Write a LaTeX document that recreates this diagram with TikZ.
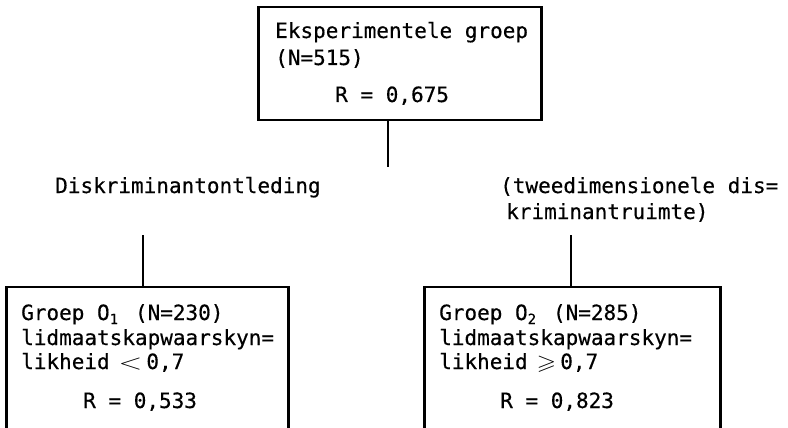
\documentclass[tikz,border=0pt]{standalone}
\usepackage{amssymb}
\usepackage{graphicx}
\usepackage{fontspec}
\setmonofont[FakeBold=0.4]{DejaVu Sans Mono}

% width of one character cell of the typewriter face
\newlength\cellw
\setlength\cellw{12.64pt}
\newcommand\subdig[1]{\makebox[\cellw][l]{\raisebox{-4pt}{\fontsize{14}{14}\selectfont #1}}}

\tikzset{
  frame/.style={draw, line width=1.3pt, inner sep=0pt},
  side/.style={line width=2.8pt},
  link/.style={line width=2.2pt},
  label/.style={anchor=base west, inner sep=0pt, font=\ttfamily\fontsize{21}{24}\selectfont},
}

\begin{document}
\begin{tikzpicture}[x=1pt,y=-1pt]
\useasboundingbox (0,0) rectangle (788,428);
\clip (0,0) rectangle (788,428);

% boxes
\node[frame, minimum width=282pt, minimum height=113pt] (top) at (400,63.5) {};
\node[frame, minimum width=281pt, minimum height=200pt] (left) at (147.5,387) {};
\node[frame, minimum width=295pt, minimum height=200pt] (right) at (572.5,387) {};

% heavier vertical sides
\draw[side] (top.north west) -- (top.south west);
\draw[side] (top.north east) -- (top.south east);
\draw[side] (left.north west) -- (left.south west);
\draw[side] (left.north east) -- (left.south east);
\draw[side] (right.north west) -- (right.south west);
\draw[side] (right.north east) -- (right.south east);

% connectors
\coordinate (c0) at (388,167);
\coordinate (c1) at (143,235);
\coordinate (c2) at (571,235);
\draw[link] (top.south -| c0) -- (c0);
\draw[link] (c1) -- (c1 |- left.north);
\draw[link] (c2) -- (c2 |- right.north);

% top box text
\node[label] (t1) at (275,38) {Eksperimentele groep};
\node[label] (t2) at (275,65) {(N=515)};
\node[label] (t3) at (335,102) {R = 0,675};

% branch labels
\node[label] (d1) at (55,193) {Diskriminantontleding};
\node[label] (d2) at (500,193) {(tweedimensionele dis=};
\node[label] (d3) at (506,219) {kriminantruimte)};

% left group
\node[label] (l1) at (21,320) {Groep O\subdig{1} (N=230)};
\node[label] (l2) at (21,345) {lidmaatskapwaarskyn=};
\node[label] (l3) at (21,369) {likheid\hspace{9pt}\smash{\scalebox{1.5}[1.05]{$<$}}\hspace{4pt}0,7};
\node[label] (l4) at (83,408) {R = 0,533};

% right group
\node[label] (r1) at (439,320) {Groep O\subdig{2} (N=285)};
\node[label] (r2) at (439,345) {lidmaatskapwaarskyn=};
\node[label] (r3) at (439,369) {likheid\hspace{9pt}\smash{\scalebox{1.2}[1]{$\geqslant$}}\hspace{4pt}0,7};
\node[label] (r4) at (500,408) {R = 0,823};
\end{tikzpicture}
\end{document}
